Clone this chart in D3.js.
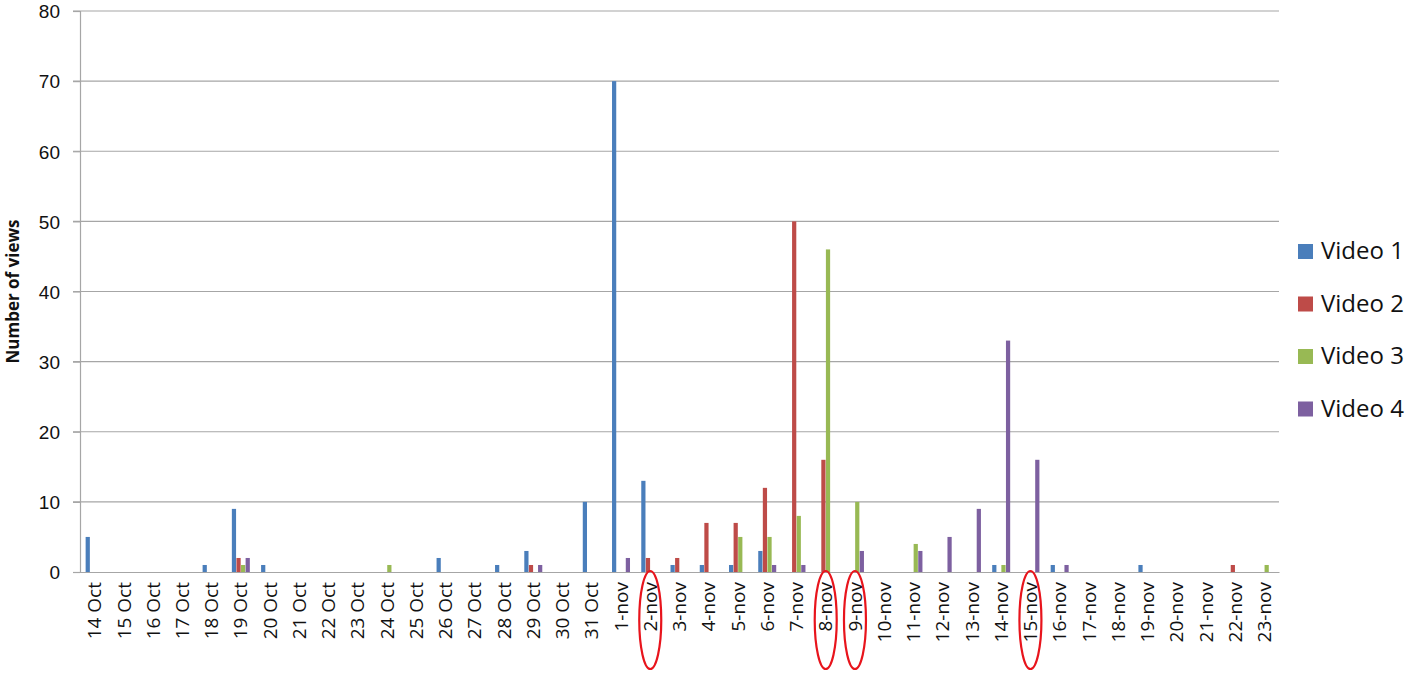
<!DOCTYPE html>
<html>
<head>
<meta charset="utf-8">
<script src="https://cdn.jsdelivr.net/npm/d3@7"></script>
<style>
  body { margin: 0; background: #fff; }
  text { font-family: "Open Sans", "Liberation Sans", sans-serif; }
</style>
</head>
<body>
<div id="chart"></div>
<script>
// categories (days)
const days = ['14 Oct', '15 Oct', '16 Oct', '17 Oct', '18 Oct', '19 Oct', '20 Oct', '21 Oct', '22 Oct',
  '23 Oct', '24 Oct', '25 Oct', '26 Oct', '27 Oct', '28 Oct', '29 Oct', '30 Oct', '31 Oct',
  '1-nov', '2-nov', '3-nov', '4-nov', '5-nov', '6-nov', '7-nov', '8-nov', '9-nov', '10-nov',
  '11-nov', '12-nov', '13-nov', '14-nov', '15-nov', '16-nov', '17-nov', '18-nov', '19-nov',
  '20-nov', '21-nov', '22-nov', '23-nov'];

const seriesNames = ['Video 1', 'Video 2', 'Video 3', 'Video 4'];
const seriesColors = ['#4a7ebb', '#be4b48', '#98b954', '#7d60a0'];

// views per day, one array per video
const video1 = [5, 0, 0, 0, 1, 9, 1, 0, 0, 0, 0, 0, 2, 0, 1, 3, 0, 10,
  70, 13, 1, 1, 1, 3, 0, 0, 0, 0, 0, 0, 0, 1, 0, 1, 0, 0, 1, 0, 0, 0, 0];
const video2 = [0, 0, 0, 0, 0, 2, 0, 0, 0, 0, 0, 0, 0, 0, 0, 1, 0, 0,
  0, 2, 2, 7, 7, 12, 50, 16, 0, 0, 0, 0, 0, 0, 0, 0, 0, 0, 0, 0, 0, 1, 0];
const video3 = [0, 0, 0, 0, 0, 1, 0, 0, 0, 0, 1, 0, 0, 0, 0, 0, 0, 0,
  0, 0, 0, 0, 5, 5, 8, 46, 10, 0, 4, 0, 0, 1, 0, 0, 0, 0, 0, 0, 0, 0, 1];
const video4 = [0, 0, 0, 0, 0, 2, 0, 0, 0, 0, 0, 0, 0, 0, 0, 1, 0, 0,
  2, 0, 0, 0, 0, 1, 1, 0, 3, 0, 3, 5, 9, 33, 16, 1, 0, 0, 0, 0, 0, 0, 0];

const yTicks = [0, 10, 20, 30, 40, 50, 60, 70, 80];

// days whose labels are circled in red
const circled = ['2-nov', '8-nov', '9-nov', '15-nov'];

const allSeries = [video1, video2, video3, video4];

const width = 1414, height = 673;
const margin = { top: 11, right: 135, bottom: 101, left: 80 };
const plotW = width - margin.left - margin.right;
const plotH = height - margin.top - margin.bottom;

const svg = d3.select('#chart').append('svg')
  .attr('width', width)
  .attr('height', height);

const g = svg.append('g')
  .attr('transform', `translate(${margin.left},${margin.top})`);

const x0 = d3.scaleBand().domain(days).range([0, plotW]).paddingInner(0.36).paddingOuter(0.18);
const x1 = d3.scaleBand().domain(d3.range(4)).range([0, x0.bandwidth()]).padding(0.08);
const y = d3.scaleLinear().domain([0, 80]).range([plotH, 0]);

// gridlines
g.selectAll('.grid')
  .data(yTicks.filter(t => t > 0))
  .enter().append('line')
  .attr('x1', -7).attr('x2', plotW)
  .attr('y1', d => y(d)).attr('y2', d => y(d))
  .style('stroke', '#a6a6a6')
  .style('stroke-width', 1.2);

// y axis
const yAxis = g.append('g')
  .call(d3.axisLeft(y).tickValues(yTicks).tickSize(7).tickPadding(13));
yAxis.select('.domain').style('stroke', '#a6a6a6').style('stroke-width', 1.2);
yAxis.selectAll('.tick line').style('stroke', '#a6a6a6').style('stroke-width', 1.2);
yAxis.selectAll('.tick text')
  .style('font-family', '"Liberation Sans", Arial, sans-serif')
  .style('font-size', '19px')
  .attr('dy', '0.36em')
  .style('fill', '#111');

// bars
const groups = g.selectAll('.day')
  .data(days)
  .enter().append('g')
  .attr('transform', d => `translate(${x0(d)},0)`);

groups.selectAll('rect')
  .data((d, i) => allSeries.map((s, k) => ({ k, v: s[i] })))
  .enter().append('rect')
  .filter(d => d.v > 0)
  .attr('x', d => x1(d.k))
  .attr('width', x1.bandwidth())
  .attr('y', d => y(d.v))
  .attr('height', d => plotH - y(d.v))
  .style('fill', d => seriesColors[d.k]);

// x axis
const xAxis = g.append('g')
  .attr('transform', `translate(0,${plotH})`)
  .call(d3.axisBottom(x0).tickSize(0).tickPadding(10));
xAxis.select('.domain').style('stroke', '#a6a6a6').style('stroke-width', 1.2);
xAxis.selectAll('.tick text')
  .attr('transform', 'rotate(-90)')
  .attr('text-anchor', 'end')
  .attr('x', -10)
  .attr('y', 0)
  .attr('dy', '0.35em')
  .style('font-size', '19px')
  .style('fill', '#111');

// red circles round some day labels
g.selectAll('.mark')
  .data(circled)
  .enter().append('ellipse')
  .attr('cx', d => x0(d) + x0.bandwidth() / 2)
  .attr('cy', plotH + 48)
  .attr('rx', 11)
  .attr('ry', 49)
  .style('fill', 'none')
  .style('stroke', '#e8141c')
  .style('stroke-width', 2.2);

// y title
svg.append('text')
  .attr('transform', `translate(19,${margin.top + plotH / 2}) rotate(-90)`)
  .attr('text-anchor', 'middle')
  .style('font-size', '17px')
  .style('font-weight', 'bold')
  .style('fill', '#111')
  .text('Number of views');

// legend
const legend = svg.append('g')
  .attr('transform', 'translate(1298,251)');
const items = legend.selectAll('g')
  .data(seriesNames)
  .enter().append('g')
  .attr('transform', (d, i) => `translate(0,${i * 52.5})`);
items.append('rect')
  .attr('x', 0).attr('y', -7)
  .attr('width', 15).attr('height', 15)
  .style('fill', (d, i) => seriesColors[i]);
items.append('text')
  .attr('x', 23)
  .attr('dy', '0.35em')
  .style('font-size', '24px')
  .style('fill', '#111')
  .text(d => d);
</script>
</body>
</html>
